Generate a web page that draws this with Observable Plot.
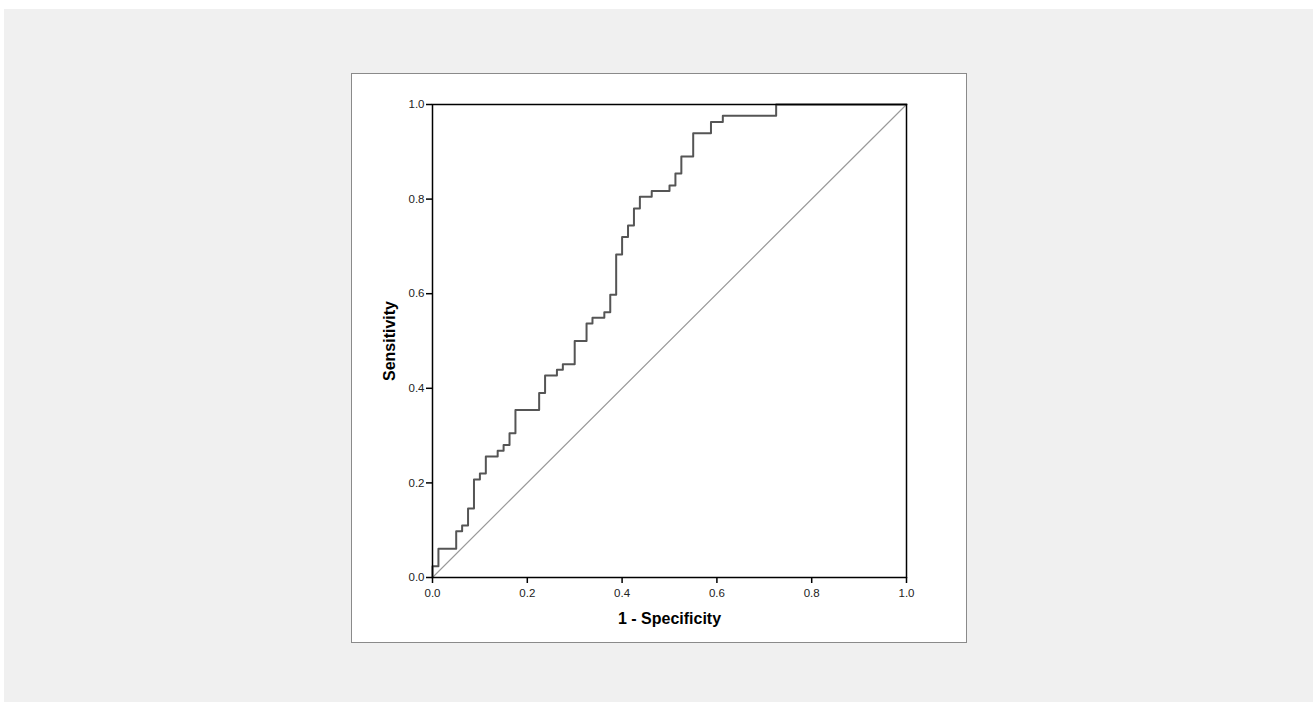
<!DOCTYPE html>
<html>
<head>
<meta charset="utf-8">
<script src="https://cdn.jsdelivr.net/npm/d3@7"></script>
<script src="https://cdn.jsdelivr.net/npm/@observablehq/plot@0.6"></script>
<style>
  html, body { margin: 0; padding: 0; background: #ffffff; width: 1313px; height: 702px; overflow: hidden; }
  #page { position: absolute; left: 4px; top: 9px; width: 1309px; height: 693px; background: #f0f0f0; }
  #panel { position: absolute; left: 351px; top: 73px; width: 614px; height: 568px; border: 1px solid #8a8a8a; background: #ffffff; }
  #panel svg { display: block; }
</style>
</head>
<body>
<div id="page"></div>
<div id="panel"></div>
<script>
// ROC curve corner points (1 - Specificity, Sensitivity)
const fpr = [0, 0.0125, 0.05, 0.0625, 0.075, 0.0875, 0.1, 0.1125, 0.1375, 0.15, 0.1625, 0.175, 0.225, 0.2375, 0.2625, 0.275, 0.3, 0.325, 0.3375, 0.3625, 0.375, 0.3875, 0.4, 0.4125, 0.425, 0.4375, 0.4625, 0.5, 0.5125, 0.525, 0.55, 0.5875, 0.6125, 0.725, 1.0];
const tpr = [0, 0.024, 0.061, 0.098, 0.110, 0.146, 0.207, 0.220, 0.256, 0.268, 0.280, 0.305, 0.354, 0.390, 0.427, 0.439, 0.451, 0.500, 0.537, 0.549, 0.561, 0.598, 0.683, 0.720, 0.744, 0.780, 0.805, 0.817, 0.829, 0.854, 0.890, 0.939, 0.963, 0.976, 1.0];
// Reference (chance) line
const refX = [0, 1];
const refY = [0, 1];
const ticks = [0, 0.2, 0.4, 0.6, 0.8, 1.0];
const xTitle = "1 - Specificity";
const yTitle = "Sensitivity";

const curve = fpr.map((x, i) => ({x, y: tpr[i]}));
const diag = refX.map((x, i) => ({x, y: refY[i]}));

const chart = Plot.plot({
  width: 614,
  height: 568,
  marginLeft: 80,
  marginTop: 30,
  marginRight: 60,
  marginBottom: 65,
  style: { fontFamily: "'Liberation Sans', Arial, sans-serif", fontSize: "11.5px", color: "#222", background: "#ffffff" },
  x: { domain: [0, 1] },
  y: { domain: [0, 1] },
  marks: [
    Plot.line(diag, { x: "x", y: "y", stroke: "#9a9a9a", strokeWidth: 1.2 }),
    Plot.line(curve, { x: "x", y: "y", curve: "step-before", stroke: "#555555", strokeWidth: 2 }),
    Plot.frame({ stroke: "#000000", strokeWidth: 1.5 }),
    Plot.axisX({ ticks, tickFormat: d3.format(".1f"), tickSize: 6, tickPadding: 5, stroke: "#000", strokeWidth: 1.5, label: null, fontSize: 11.5, fill: "#222" }),
    Plot.axisY({ ticks, tickFormat: d3.format(".1f"), tickSize: 6, tickPadding: 2, stroke: "#000", strokeWidth: 1.5, label: null, fontSize: 11.5, fill: "#222" }),
    Plot.text([xTitle], { frameAnchor: "bottom", dy: 41, lineAnchor: "middle", textAnchor: "middle", text: d => d, fontSize: 16, fontWeight: "bold", fill: "#000" }),
    Plot.text([yTitle], { frameAnchor: "left", dx: -43, rotate: -90, lineAnchor: "middle", textAnchor: "middle", text: d => d, fontSize: 16, fontWeight: "bold", fill: "#000" })
  ]
});
document.getElementById("panel").appendChild(chart);
</script>
</body>
</html>
